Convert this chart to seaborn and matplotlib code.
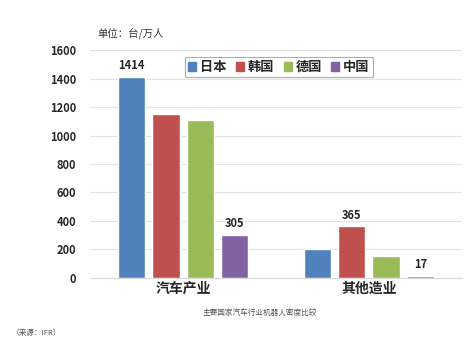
import numpy as np
import pandas as pd
import matplotlib
matplotlib.use('Agg')
import matplotlib.pyplot as plt
import seaborn as sns

# ── data ─────────────────────────────────────────
industries = ['汽车产业', '其他造业']
countries = ['日本', '韩国', '德国', '中国']
japan = [1414, 205]
korea = [1150, 365]
germany = [1110, 155]
china = [305, 17]
# which values are printed over the bars
shown = {'日本': [True, False], '韩国': [False, True],
         '德国': [False, False], '中国': [True, True]}
colors = ['#4F81BD', '#C0504D', '#9BBB59', '#8064A2']

df = pd.DataFrame({
    'industry': industries * 4,
    'country': np.repeat(countries, 2),
    'value': japan + korea + germany + china,
})

sns.set_style('white')
plt.rcParams['font.family'] = ['Noto Sans CJK SC', 'DejaVu Sans']

fig = plt.figure(figsize=(4.67, 3.55), dpi=100)
ax = fig.add_axes([0.193, 0.217, 0.796, 0.642])

sns.barplot(data=df, x='industry', y='value', hue='country',
            palette=colors, saturation=1, width=0.74, gap=0.2, ax=ax, legend=False)

ax.set_ylim(0, 1600)
ax.set_xlim(-0.5, 1.5)
ax.set_yticks(range(0, 1601, 200))
ax.yaxis.grid(True, color='#e3e3e3', linewidth=0.8)
ax.set_axisbelow(True)
for s in ['top', 'right', 'left']:
    ax.spines[s].set_visible(False)
ax.spines['bottom'].set_color('#d9d9d9')
ax.tick_params(axis='y', length=0, pad=10, labelsize=8)
ax.tick_params(axis='x', length=0, pad=3, labelsize=10)
for t in ax.get_yticklabels() + ax.get_xticklabels():
    t.set_fontweight('bold')
ax.set_xlabel('')
ax.set_ylabel('')

for cont, c in zip(ax.containers, countries):
    vals = df[df.country == c]['value'].tolist()
    labs = [str(v) if s else '' for v, s in zip(vals, shown[c])]
    ax.bar_label(cont, labels=labs, padding=3, fontsize=8, fontweight='bold')

handles = [plt.Rectangle((0, 0), 1, 1, color=col) for col in colors]
leg = ax.legend(handles, countries, ncol=4, loc='center', bbox_to_anchor=(0.508, 0.925),
                frameon=True, fancybox=False, handlelength=0.6, handleheight=0.6,
                handletextpad=0.3, columnspacing=0.7, borderpad=0.25,
                prop={'weight': 'bold', 'size': 9.5})
leg.get_frame().set_edgecolor('#999999')
leg.get_frame().set_linewidth(0.8)

fig.text(97 / 467, 1 - 33 / 355, '单位：台/万人', fontsize=7.5, color='#333333', va='center')
fig.text(260 / 467, 1 - 313 / 355, '主要国家汽车行业机器人密度比较', fontsize=5.5,
         color='#555555', ha='center', va='center')
fig.text(12 / 467, 1 - 333 / 355, '（来源：IFR）', fontsize=5.5, color='#555555', va='center')

fig.savefig('out.png', dpi=100)
